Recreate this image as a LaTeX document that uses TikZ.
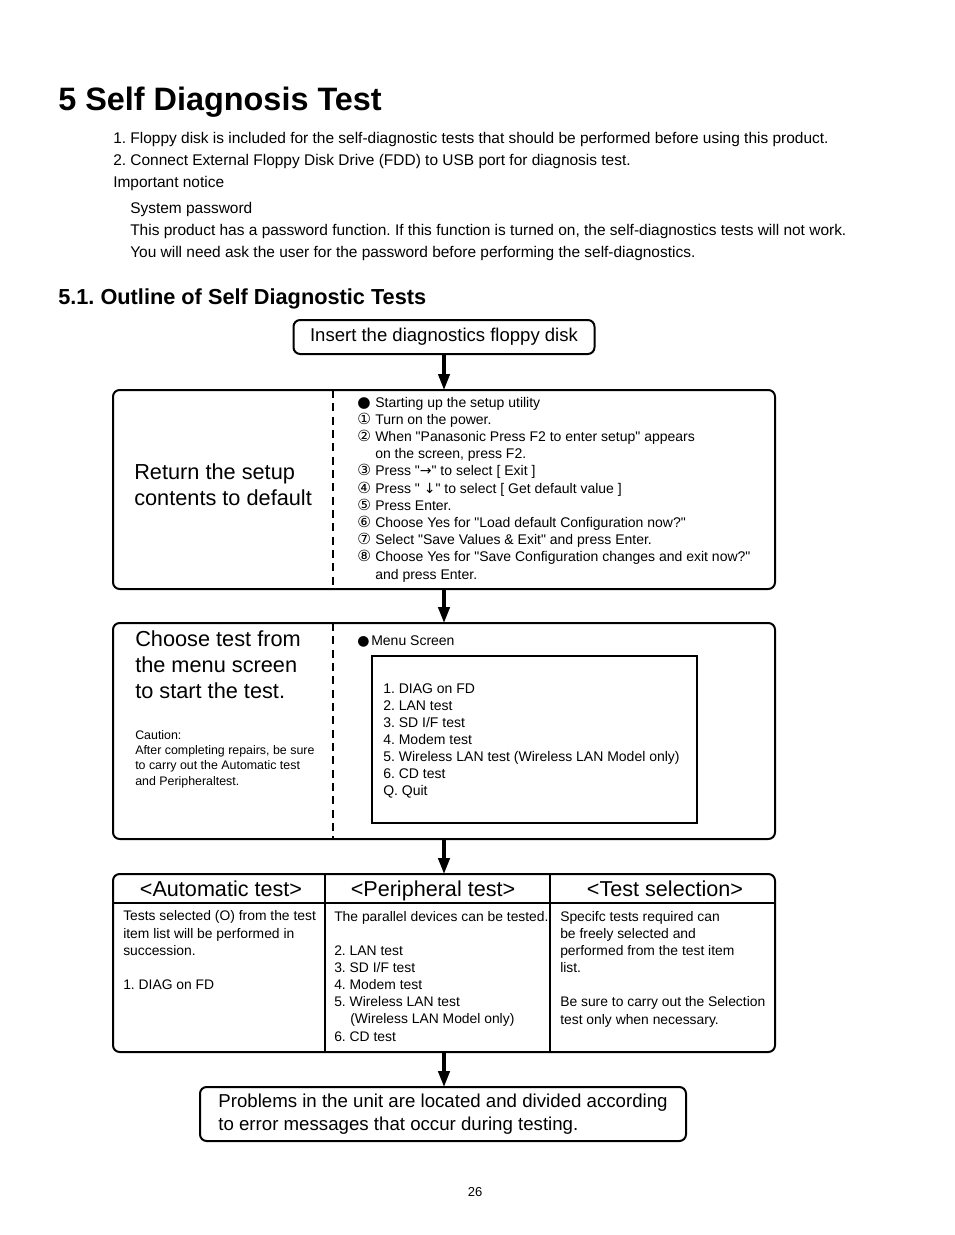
\documentclass[tikz,border=0pt]{standalone}
\usepackage{fontspec}
\setmainfont{Liberation Sans}
\newfontfamily\symfont{DejaVu Sans}
\usetikzlibrary{arrows.meta}
\newcommand\sym[1]{{\symfont#1}}
\newcommand\cnum[1]{\makebox[13.5pt][l]{\symfont\fontsize{11.5}{10}\selectfont#1}}
\newcommand\indentstep{\hspace*{13.5pt}}
\newcommand\q{\textquotedbl}
\frenchspacing

\begin{document}
\begin{tikzpicture}[x=0.75pt,y=-0.75pt]
    \tikzstyle{box}=[draw, rounded corners=5pt, line width=1.5pt, inner sep=0pt, outer sep=0pt]
    \tikzstyle{txt}=[anchor=base west, inner sep=0pt, align=left]
    \tikzstyle{head}=[anchor=base, inner sep=0pt, font=\fontsize{16.2}{20}\selectfont]
    \tikzstyle{flow}=[-{Triangle[length=12pt,width=8.5pt]}, line width=2.5pt]
    \tikzstyle{sepline}=[line width=2.2pt, dash pattern=on 6pt off 4pt]
    \tikzstyle{rule}=[line width=1.5pt]
    \tikzstyle{small}=[font=\fontsize{10.5}{12.9}\selectfont]
    \tikzstyle{big}=[font=\fontsize{16.3}{19.8}\selectfont]

    \useasboundingbox (0,0) rectangle (954,1235);

    % page heading and notes (multi-line texts sit on the baseline of their last line)
    \node[txt, font=\fontsize{24.3}{29}\bfseries\selectfont] (title) at (58,110) {5 Self Diagnosis Test};
    \node[txt, font=\fontsize{11.6}{16.2}\selectfont] (notes) at (113,187)
      {1. Floppy disk is included for the self-diagnostic tests that should be performed before using this product.\\
       2. Connect External Floppy Disk Drive (FDD) to USB port for diagnosis test.\\
       Important notice};
    \node[txt, font=\fontsize{11.6}{16.2}\selectfont] (password) at (130,257)
      {System password\\
       This product has a password function. If this function is turned on, the self-diagnostics tests will not work.\\
       You will need ask the user for the password before performing the self-diagnostics.};
    \node[txt, font=\fontsize{16.3}{20}\bfseries\selectfont] (outline) at (58,304) {5.1. Outline of Self Diagnostic Tests};

    % flow boxes
    \node[box, minimum width=225.75pt, minimum height=25.5pt, font=\fontsize{13.9}{17}\selectfont] (insert) at (444,337) {Insert the diagnostics floppy disk};
    \node[box, minimum width=496.5pt, minimum height=149.25pt] (setup) at (444,489.5) {};
    \node[box, minimum width=496.5pt, minimum height=162pt] (menu) at (444,731) {};
    \node[box, minimum width=496.5pt, minimum height=133.5pt] (modes) at (444,963) {};
    \node[box, minimum width=364.5pt, minimum height=40.5pt, align=left, font=\fontsize{14}{17.25}\selectfont] (result) at (443,1114)
      {Problems in the unit are located and divided according\\to error messages that occur during testing.};

    \path[flow]
     (insert) edge (setup)
     (setup)  edge (menu)
     (menu)   edge (modes)
     (modes.south) edge (modes.south |- result.north)
     ;

    % setup box
    \draw[sepline] (333,390) -- (333,589);
    \node[txt, big] (setuptitle) at (134,505.4) {Return the setup\\contents to default};
    \node[txt, small] (steps) at (357,579)
      {\cnum{●}Starting up the setup utility\\
       \cnum{①}Turn on the power.\\
       \cnum{②}When \q Panasonic Press F2 to enter setup\q{} appears\\
       \indentstep on the screen, press F2.\\
       \cnum{③}Press \q\sym{→}\q{} to select [ Exit ]\\
       \cnum{④}Press \q{} \sym{↓}\q{} to select [ Get default value ]\\
       \cnum{⑤}Press Enter.\\
       \cnum{⑥}Choose Yes for \q Load default Configuration now?\q\\
       \cnum{⑦}Select \q Save Values \& Exit\q{} and press Enter.\\
       \cnum{⑧}Choose Yes for \q Save Configuration changes and exit now?\q\\
       \indentstep and press Enter.};

    % menu box
    \draw[sepline] (333,623) -- (333,839);
    \node[txt, big] (menutitle) at (135,698.8) {Choose test from\\the menu screen\\to start the test.};
    \node[txt, font=\fontsize{9.3}{11.5}\selectfont] (caution) at (135,785)
      {Caution:\\After completing repairs, be sure\\to carry out the Automatic test\\and Peripheraltest.};
    \node[txt, small] (menuhead) at (357,645) {\makebox[10.5pt][l]{\sym{●}}Menu Screen};
    \node[draw, rule, inner sep=0pt, minimum width=243.75pt, minimum height=125.25pt] (screen) at (534.5,739.5) {};
    \node[txt, font=\fontsize{10.5}{12.75}\selectfont] (menulist) at (383,795)
      {1. DIAG on FD\\2. LAN test\\3. SD I/F test\\4. Modem test\\5. Wireless LAN test (Wireless LAN Model only)\\6. CD test\\Q. Quit};

    % test modes table
    \draw[rule] (113,903) -- (775,903);
    \draw[rule] (325,874) -- (325,1052);
    \draw[rule] (550,874) -- (550,1052);
    \node[head] (auto) at (221,896) {<Automatic test>};
    \node[head] (periph) at (433,896) {<Peripheral test>};
    \node[head] (select) at (665,896) {<Test selection>};
    \node[txt, font=\fontsize{10.4}{12.85}\selectfont] (autotext) at (123,989.5)
      {Tests selected (O) from the test\\item list will be performed in\\succession.\\\mbox{}\\1. DIAG on FD};
    \node[txt, font=\fontsize{10.4}{12.85}\selectfont] (periphtext) at (334,1041)
      {The parallel devices can be tested.\\\mbox{}\\2. LAN test\\3. SD I/F test\\4. Modem test\\5. Wireless LAN test\\\hspace*{12pt}(Wireless LAN Model only)\\6. CD test};
    \node[txt, font=\fontsize{10.4}{12.85}\selectfont] (selecttext) at (560,1024)
      {Specifc tests required can\\be freely selected and\\performed from the test item\\list.\\\mbox{}\\Be sure to carry out the Selection\\test only when necessary.};

    \node[font=\fontsize{9.75}{12}\selectfont] (page) at (475,1192) {26};
\end{tikzpicture}
\end{document}
